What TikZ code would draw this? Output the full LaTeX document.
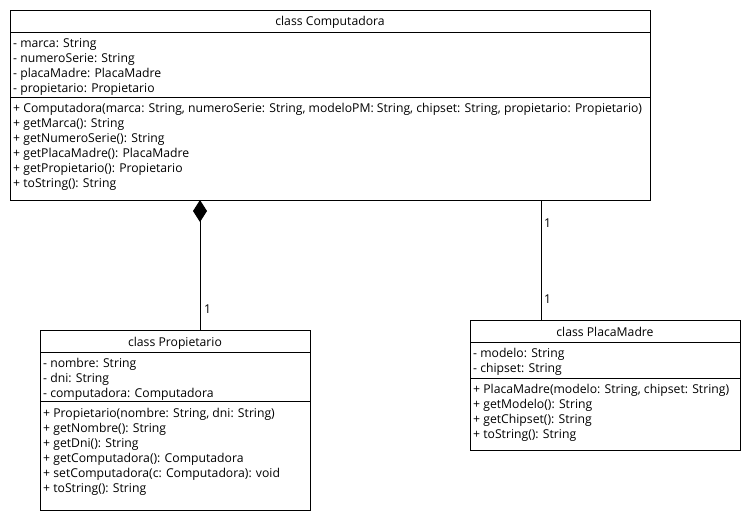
\documentclass[tikz,border=0pt]{standalone}
\usepackage{fontspec}
\setmainfont{Open Sans}
\usetikzlibrary{arrows.meta}
\tikzset{
  box/.style={draw=black, line width=1pt, fill=white, inner sep=0pt, outer sep=0pt},
  txt/.style={anchor=base west, inner sep=0pt, font=\fontsize{12.2}{15}\selectfont},
  ttl/.style={anchor=base, inner sep=0pt, font=\fontsize{12.2}{15}\selectfont},
  sep/.style={line width=1pt},
  link/.style={line width=1pt},
  mult/.style={anchor=base west, inner sep=0pt, font=\fontsize{12.2}{15}\selectfont},
}
\begin{document}
\begin{tikzpicture}[x=1pt,y=-1pt]
\useasboundingbox (0,0) rectangle (750,520);
\fill[white] (0,0) rectangle (750,520);

% ---------- Computadora ----------
\node[box, minimum width=640pt, minimum height=190pt] (comp) at (330,105) {};
\draw[sep] (10,32) -- (650,32);
\draw[sep] (10,97) -- (650,97);
\node[ttl] (compT) at (330,25) {class Computadora};
\foreach \t [count=\i] in {{- marca: String},{- numeroSerie: String},{- placaMadre: PlacaMadre},{- propietario: Propietario}}
  \node[txt] (compA\i) at (13,47+15*\i-15) {\t};
\foreach \t [count=\i] in {{+ Computadora(marca: String, numeroSerie: String, modeloPM: String, chipset: String, propietario: Propietario)},{+ getMarca(): String},{+ getNumeroSerie(): String},{+ getPlacaMadre(): PlacaMadre},{+ getPropietario(): Propietario},{+ toString(): String}}
  \node[txt] (compM\i) at (13,112.5+15*\i-15) {\t};

% ---------- Propietario ----------
\node[box, minimum width=270pt, minimum height=180pt] (prop) at (175,420) {};
\draw[sep] (40,352) -- (310,352);
\draw[sep] (40,401) -- (310,401);
\node[ttl] (propT) at (175,346) {class Propietario};
\foreach \t [count=\i] in {{- nombre: String},{- dni: String},{- computadora: Computadora}}
  \node[txt] (propA\i) at (43,367.5+15*\i-15) {\t};
\foreach \t [count=\i] in {{+ Propietario(nombre: String, dni: String)},{+ getNombre(): String},{+ getDni(): String},{+ getComputadora(): Computadora},{+ setComputadora(c: Computadora): void},{+ toString(): String}}
  \node[txt] (propM\i) at (43,417+15*\i-15) {\t};

% ---------- PlacaMadre ----------
\node[box, minimum width=270pt, minimum height=130pt] (placa) at (605,385) {};
\draw[sep] (470,342) -- (740,342);
\draw[sep] (470,378) -- (740,378);
\node[ttl] (placaT) at (605,336) {class PlacaMadre};
\foreach \t [count=\i] in {{- modelo: String},{- chipset: String}}
  \node[txt] (placaA\i) at (473,357+15*\i-15) {\t};
\foreach \t [count=\i] in {{+ PlacaMadre(modelo: String, chipset: String)},{+ getModelo(): String},{+ getChipset(): String},{+ toString(): String}}
  \node[txt] (placaM\i) at (473,393+15*\i-15) {\t};

% ---------- connectors ----------
\draw[link, {Diamond[length=22pt,width=14pt,fill=black]}-] ([xshift=190pt]comp.south west) -- ([xshift=160pt]prop.north west);
\draw[link] ([xshift=531pt]comp.south west) -- ([xshift=71pt]placa.north west);

\node[mult] (m1) at (204,313) {1};
\node[mult] (m2) at (544,227) {1};
\node[mult] (m3) at (544,303) {1};
\end{tikzpicture}
\end{document}
